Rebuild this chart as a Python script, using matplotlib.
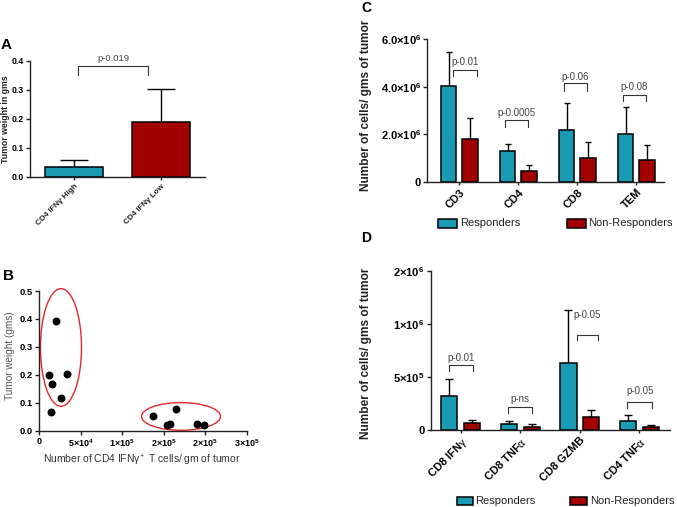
import matplotlib
matplotlib.use('Agg')
import matplotlib.pyplot as plt
from matplotlib.patches import Ellipse, Rectangle
import numpy as np

plt.rcParams['font.family'] = ['Liberation Sans', 'DejaVu Sans']
plt.rcParams['mathtext.fontset'] = 'custom'
plt.rcParams['mathtext.rm'] = 'Liberation Sans'
plt.rcParams['mathtext.bf'] = 'Liberation Sans:bold'
plt.rcParams['mathtext.it'] = 'Liberation Sans:italic'

TEAL = '#1A9BB4'
RED = '#A30000'
PGRAY = '#444444'

# ---------------- data ----------------
# Panel A
a_groups = ['CD4 IFNγ High', 'CD4 IFNγ Low']
a_means = [0.035, 0.19]
a_err = [0.025, 0.112]
a_p = 'p-0.019'
a_bracket = (0.383, 0.352)   # top, bottom
a_ptext_y = 0.41

# Panel B
b_x = [20466, 12039, 15651, 33308, 26887, 14046,
       137245, 154500, 157710, 164934, 190618, 198644]
b_y = [0.394, 0.199, 0.166, 0.202, 0.118, 0.067,
       0.052, 0.019, 0.024, 0.078, 0.025, 0.020]
b_xticks = [0, 5e4, 1e5, 1.5e5, 2e5, 2.5e5]
b_xticklabels = ['0', r'$\mathbf{5{\times}10^{4}}$', r'$\mathbf{1{\times}10^{5}}$',
                 r'$\mathbf{2{\times}10^{5}}$', r'$\mathbf{2{\times}10^{5}}$',
                 r'$\mathbf{3{\times}10^{5}}$']
b_ellipses = [(26486, 0.298, 49360, 0.421), (170949, 0.051, 95108, 0.099)]

# Panel C
c_cats = ['CD3', 'CD4', 'CD8', 'TEM']
c_resp = [4.02e6, 1.30e6, 2.18e6, 2.01e6]
c_resp_err = [1.43e6, 0.28e6, 1.15e6, 1.13e6]
c_non = [1.81e6, 0.46e6, 1.01e6, 0.93e6]
c_non_err = [0.86e6, 0.24e6, 0.66e6, 0.62e6]
c_p = ['p-0.01', 'p-0.0005', 'p-0.06', 'p-0.08']
c_br_top = [4.71e6, 2.60e6, 4.15e6, 3.66e6]
c_br_bot = [4.46e6, 2.32e6, 3.84e6, 3.39e6]
c_ptext = [5.06e6, 2.90e6, 4.43e6, 4.00e6]
c_br_x = [(-0.10, 0.30), (-0.22, 0.16), (-0.22, 0.16), (-0.22, 0.16)]
c_yticks = [0, 2e6, 4e6, 6e6]
c_yticklabels = ['0', r'$\mathbf{2.0{\times}10^{6}}$', r'$\mathbf{4.0{\times}10^{6}}$',
                 r'$\mathbf{6.0{\times}10^{6}}$']

# Panel D
d_cats = [r'CD8 IFN$\mathrm{\gamma}$', r'CD8 TNF$\mathrm{\alpha}$', 'CD8 GZMB',
          r'CD4 TNF$\mathrm{\alpha}$']
d_resp = [0.320e6, 0.057e6, 0.635e6, 0.088e6]
d_resp_err = [0.158e6, 0.025e6, 0.495e6, 0.057e6]
d_non = [0.069e6, 0.031e6, 0.126e6, 0.031e6]
d_non_err = [0.025e6, 0.022e6, 0.064e6, 0.019e6]
d_p = ['p-0.01', 'p-ns', 'p-0.05', 'p-0.05']
d_br_top = [0.613e6, 0.214e6, 0.900e6, 0.267e6]
d_br_bot = [0.560e6, 0.157e6, 0.850e6, 0.205e6]
d_ptext = [0.679e6, 0.290e6, 1.082e6, 0.371e6]
d_br_x = [(-0.19, 0.21), (-0.21, 0.20), (-0.04, 0.30), (-0.20, 0.21)]
d_yticks = [0, 5e5, 1e6, 1.5e6]
d_yticklabels = ['0', r'$\mathbf{5{\times}10^{5}}$', r'$\mathbf{1{\times}10^{6}}$',
                 r'$\mathbf{2{\times}10^{6}}$']

legend_labels = ['Responders', 'Non-Responders']

# ---------------- figure ----------------
fig = plt.figure(figsize=(6.77, 5.07), dpi=100)


def style_axes(ax):
    for s in ['top', 'right']:
        ax.spines[s].set_visible(False)
    for s in ['left', 'bottom']:
        ax.spines[s].set_linewidth(1.0)
        ax.spines[s].set_color('#222222')
    ax.tick_params(direction='out', width=1.0, length=3, color='#222222', pad=1.5)


def bracket(ax, x0, x1, ytop, ybot, text, ytext, fs):
    ax.plot([x0, x0, x1, x1], [ybot, ytop, ytop, ybot], color='#333333', lw=0.8,
            clip_on=False)
    ax.text((x0 + x1) / 2, ytext, text, ha='center', va='center', fontsize=fs,
            color=PGRAY)


# ----- Panel A -----
axA = fig.add_axes([0.0443, 0.6509, 0.2585, 0.2288])
style_axes(axA)
xa = np.arange(len(a_groups))
axA.bar(xa, a_means, width=0.667, color=[TEAL, RED], edgecolor='black', linewidth=1.1,
        zorder=2)
axA.errorbar(xa, a_means, yerr=[np.zeros(len(a_means)), a_err], fmt='none',
             ecolor='black', elinewidth=1.0, capsize=10, capthick=1.0, zorder=1)
axA.set_xlim(-0.506, 1.506)
axA.set_ylim(0, 0.4)
axA.set_yticks([0, 0.1, 0.2, 0.3, 0.4])
axA.set_yticklabels(['0.0', '0.1', '0.2', '0.3', '0.4'], fontsize=6.2, fontweight='bold')
axA.set_xticks(xa)
axA.set_xticklabels(a_groups, rotation=45, ha='right', rotation_mode='anchor',
                    fontsize=5.8, fontweight='bold', color='#222222')
axA.tick_params(axis='x', length=2.5)
bracket(axA, 0.05, 0.85, a_bracket[0], a_bracket[1], a_p, a_ptext_y, 6.8)
fig.text(0.0074, 0.7643, 'Tumor weight in gms', rotation=90, ha='center', va='center',
         fontsize=6.3, fontweight='bold', color='#222222')
fig.text(0.009, 0.911, 'A', fontsize=11, fontweight='bold', ha='center', va='center')

# ----- Panel B -----
axB = fig.add_axes([0.0576, 0.1505, 0.3068, 0.2755])
style_axes(axB)
axB.scatter(b_x, b_y, s=22, color='black', zorder=3, clip_on=False)
for cx, cy, w, h in b_ellipses:
    axB.add_patch(Ellipse((cx, cy), w, h, fill=False, edgecolor='#E3262B', lw=1.0,
                          clip_on=False))
axB.set_xlim(0, 2.5e5)
axB.set_ylim(0, 0.5)
axB.set_xticks(b_xticks)
axB.set_xticklabels(b_xticklabels, fontsize=6.5, fontweight='bold')
axB.set_yticks([0, 0.1, 0.2, 0.3, 0.4, 0.5])
axB.set_yticklabels(['0.0', '0.1', '0.2', '0.3', '0.4', '0.5'], fontsize=6.8,
                    fontweight='bold')
fig.text(0.0148, 0.2978, 'Tumor weight (gms)', rotation=90, ha='center', va='center',
         fontsize=7.2, color='#555555')
fig.text(0.209, 0.0913, r'Number of CD4 IFNγ$^+$ T cells/ gm of tumor', ha='center',
         va='center', fontsize=7.4, color='#333333')
fig.text(0.012, 0.456, 'B', fontsize=11, fontweight='bold', ha='center', va='center')


# ----- grouped bar helper -----
def grouped(ax, cats, resp, resp_err, non, non_err, off, width, cap):
    x = np.arange(len(cats))
    ax.bar(x - off, resp, width=width, color=TEAL, edgecolor='black', linewidth=1.1,
           zorder=2)
    ax.bar(x + off, non, width=width, color=RED, edgecolor='black', linewidth=1.1,
           zorder=2)
    ax.errorbar(x - off, resp, yerr=[np.zeros(len(resp)), resp_err], fmt='none',
                ecolor='black', elinewidth=1.0, capsize=cap, capthick=1.0, zorder=1)
    ax.errorbar(x + off, non, yerr=[np.zeros(len(non)), non_err], fmt='none',
                ecolor='black', elinewidth=1.0, capsize=cap, capthick=1.0, zorder=1)
    ax.set_xticks(x)
    ax.set_xticklabels(cats, rotation=45, ha='right', rotation_mode='anchor',
                       fontsize=8, fontweight='bold')
    ax.tick_params(axis='x', length=2.5)
    return x


def legend_row(y0, h, px1, px2, w, tx1, tx2):
    for px, tx, col, lab in [(px1, tx1, TEAL, legend_labels[0]),
                             (px2, tx2, RED, legend_labels[1])]:
        fig.add_artist(Rectangle((px, y0), w, h, transform=fig.transFigure,
                                 facecolor=col, edgecolor='black', lw=1.1))
        fig.text(tx, y0 + h / 2, lab, fontsize=8, ha='left', va='center',
                 color='#222222')


# ----- Panel C -----
axC = fig.add_axes([0.6312, 0.6416, 0.3496, 0.2809])
style_axes(axC)
xc = grouped(axC, c_cats, c_resp, c_resp_err, c_non, c_non_err, 0.18, 0.26, 2.5)
axC.set_xlim(-0.542, 3.469)
axC.set_ylim(0, 6e6)
axC.set_yticks(c_yticks)
axC.set_yticklabels(c_yticklabels, fontsize=8, fontweight='bold')
for i in range(len(c_cats)):
    bracket(axC, xc[i] + c_br_x[i][0], xc[i] + c_br_x[i][1], c_br_top[i], c_br_bot[i],
            c_p[i], c_ptext[i], 7)
fig.text(0.5406, 0.7929, 'Number of cells/ gms of tumor', rotation=90, ha='center',
         va='center', fontsize=8.6, fontweight='bold', color='#222222')
fig.text(0.5406, 0.985, 'C', fontsize=10, fontweight='bold', ha='center', va='center')
legend_row(0.5503, 0.0178, 0.647, 0.837, 0.0281, 0.6795, 0.8685)

# ----- Panel D -----
axD = fig.add_axes([0.6362, 0.1519, 0.3535, 0.3136])
style_axes(axD)
xd = grouped(axD, d_cats, d_resp, d_resp_err, d_non, d_non_err, 0.19, 0.27, 2.8)
axD.set_xlim(-0.504, 3.516)
axD.set_ylim(0, 1.5e6)
axD.set_yticks(d_yticks)
axD.set_yticklabels(d_yticklabels, fontsize=8, fontweight='bold')
for i in range(len(d_cats)):
    bracket(axD, xd[i] + d_br_x[i][0], xd[i] + d_br_x[i][1], d_br_top[i], d_br_bot[i],
            d_p[i], d_ptext[i], 7)
fig.text(0.5406, 0.3028, 'Number of cells/ gms of tumor', rotation=90, ha='center',
         va='center', fontsize=8.6, fontweight='bold', color='#222222')
fig.text(0.5406, 0.5306, 'D', fontsize=10, fontweight='bold', ha='center', va='center')
legend_row(0.0039, 0.0164, 0.6746, 0.842, 0.0245, 0.7016, 0.8715)

fig.savefig('out.png', dpi=100)
